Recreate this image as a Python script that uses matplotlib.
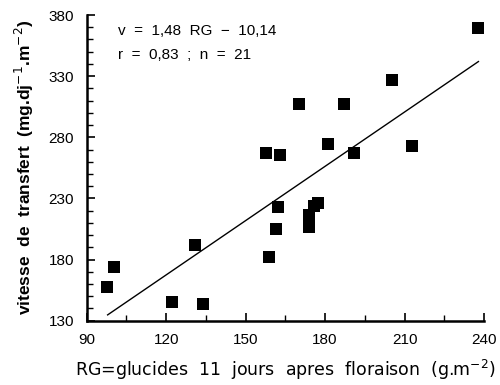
import matplotlib
matplotlib.use("Agg")
import matplotlib.pyplot as plt
import numpy as np
from matplotlib.ticker import MultipleLocator

rg = [97.5, 100.4, 122.3, 130.9, 134.0, 158.8, 161.3, 162.1, 173.8, 174.0, 175.8,
      177.2, 157.8, 162.8, 170.0, 181.1, 187.1, 191.1, 205.3, 213.0, 237.9]
v = [157.3, 174.1, 145.5, 191.6, 143.4, 181.8, 204.9, 222.6, 206.3, 216.1, 223.7,
     225.9, 267.0, 265.4, 307.0, 274.6, 307.3, 267.0, 327.2, 272.6, 369.4]
slope, intercept = 1.48, -10.14
line_x = [97.9, 237.9]
xticks = [90, 120, 150, 180, 210, 240]
yticks = [130, 180, 230, 280, 330, 380]

plt.rcParams['font.family'] = ['Liberation Sans', 'DejaVu Sans']
fig = plt.figure(figsize=(5, 3.85), dpi=100)
ax = fig.add_axes([0.1734, 0.167, 0.7946, 0.794])
ax.scatter(rg, v, marker='s', s=66, color='black', zorder=3, linewidths=0)
lx = np.array(line_x)
ax.plot(lx, slope * lx + intercept, color='black', lw=1.0)
ax.set_xlim(90, 240)
ax.set_ylim(130, 380)
ax.set_xticks(xticks)
ax.set_yticks(yticks)
ax.xaxis.set_minor_locator(MultipleLocator(15))
ax.yaxis.set_minor_locator(MultipleLocator(10))
ax.tick_params(direction='in', which='major', length=6, width=1.2, labelsize=11)
ax.tick_params(axis='x', which='major', pad=9)
ax.tick_params(axis='y', which='major', pad=9)
ax.tick_params(direction='in', which='minor', length=4, width=1.0)
for s in ['top', 'right']:
    ax.spines[s].set_visible(False)
for s in ['left', 'bottom']:
    ax.spines[s].set_linewidth(1.8)
ax.set_xlabel(r'RG=glucides  11  jours  apres  floraison  (g.m$^{-2}$)', fontsize=12.5,
              family=['DejaVu Sans'], labelpad=8)
ax.set_ylabel(r'vitesse  de  transfert  (mg.dj$^{-1}$.m$^{-2}$)', fontsize=12.5, fontweight='bold', labelpad=9)
ax.text(0.08, 0.948, 'v  =  1,48  RG  −  10,14', transform=ax.transAxes, fontsize=11, va='center')
ax.text(0.08, 0.868, 'r  =  0,83  ;  n  =  21', transform=ax.transAxes, fontsize=11, va='center')
fig.savefig('out.png', dpi=100)
